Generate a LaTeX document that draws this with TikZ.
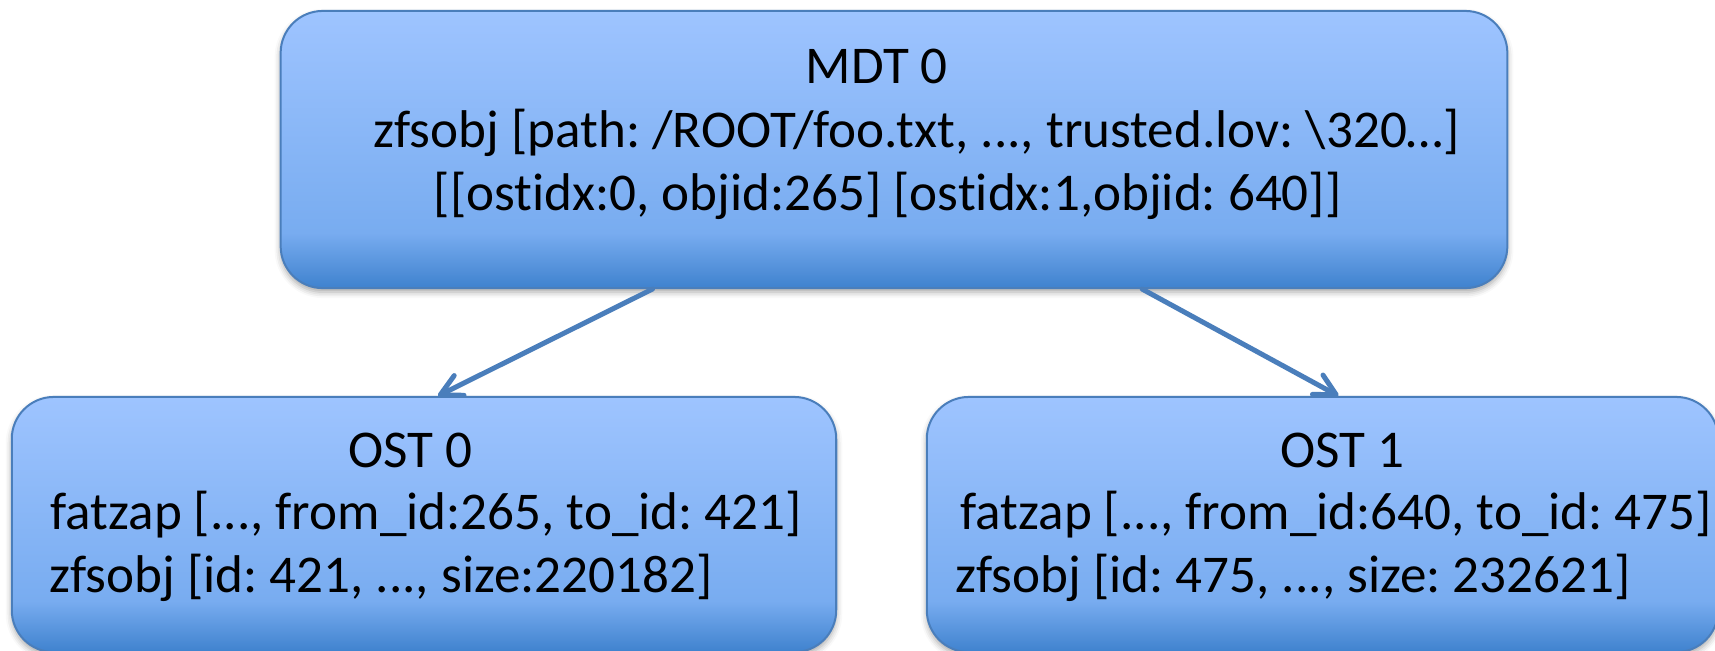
\documentclass[tikz,border=0pt]{standalone}
\usepackage{fontspec}
\setmainfont{Carlito}[Ligatures=NoCommon]
\usetikzlibrary{arrows.meta,calc,shadows.blur}
\frenchspacing

\definecolor{boxlight}{HTML}{9EC4FF}
\definecolor{boxmid}{HTML}{78ACF0}
\definecolor{boxdark}{HTML}{3F82CE}
\definecolor{boxline}{HTML}{4A7EBB}
% light at the top, darkening towards the bottom edge
\pgfdeclareverticalshading{boxfill}{100bp}{color(0bp)=(boxdark); color(25bp)=(boxdark); color(35bp)=(boxmid); color(75bp)=(boxlight); color(100bp)=(boxlight)}

\begin{document}
\begin{tikzpicture}[x=0.01cm,y=-0.01cm,
  objbox/.style={draw=boxline, line width=0.02cm, rounded corners=0.42cm,
    shading=boxfill, inner sep=0pt,
    blur shadow={shadow xshift=0pt, shadow yshift=-0.04cm,
      shadow blur radius=0.06cm, shadow opacity=35}},
  txt/.style={anchor=base west, inner sep=0pt,
    font=\fontsize{15.1pt}{18pt}\selectfont},
  link/.style={draw=boxline, line width=0.05cm, line cap=round,
    -{Straight Barb[length=0.21cm,width=0.22cm,round]}}
]
\useasboundingbox (0,0) rectangle (1715,650);

% object boxes
\node[objbox, minimum width=12.26cm, minimum height=2.77cm] (mdt) at (894,149.5) {};
\node[objbox, minimum width=8.24cm, minimum height=2.55cm] (ost0) at (424,524.5) {};
\node[objbox, minimum width=7.91cm, minimum height=2.55cm] (ost1) at (1322.5,524.5) {};

% box contents
\node[txt] (mdt-a) at (805,83) {MDT 0};
\node[txt] (mdt-b) at (373,147) {zfsobj [path: /ROOT/foo.txt, ..., trusted.lov: \textbackslash320…]};
\node[txt] (mdt-c) at (433,210) {[[ostidx:0, objid:265] [ostidx:1,objid: 640]]};

\node[txt] (ost0-a) at (348,467) {OST 0};
\node[txt] (ost0-b) at (50,529) {fatzap [..., from\_id:265, to\_id: 421]};
\node[txt] (ost0-c) at (49,592) {zfsobj [id: 421, ..., size:220182]};

\node[txt] (ost1-a) at (1280,467) {OST 1};
\node[txt] (ost1-b) at (960,529) {fatzap [..., from\_id:640, to\_id: 475]};
\node[txt] (ost1-c) at (955,592) {zfsobj [id: 475, ..., size: 232621]};

% references from the MDT object to the OST objects
\draw[link] ($(mdt.south west)!0.3034!(mdt.south east)$) -- ($(ost0.north west)!0.517!(ost0.north east)$);
\draw[link] ($(mdt.south west)!0.702!(mdt.south east)$) -- ($(ost1.north west)!0.52!(ost1.north east)$);
\end{tikzpicture}
\end{document}
